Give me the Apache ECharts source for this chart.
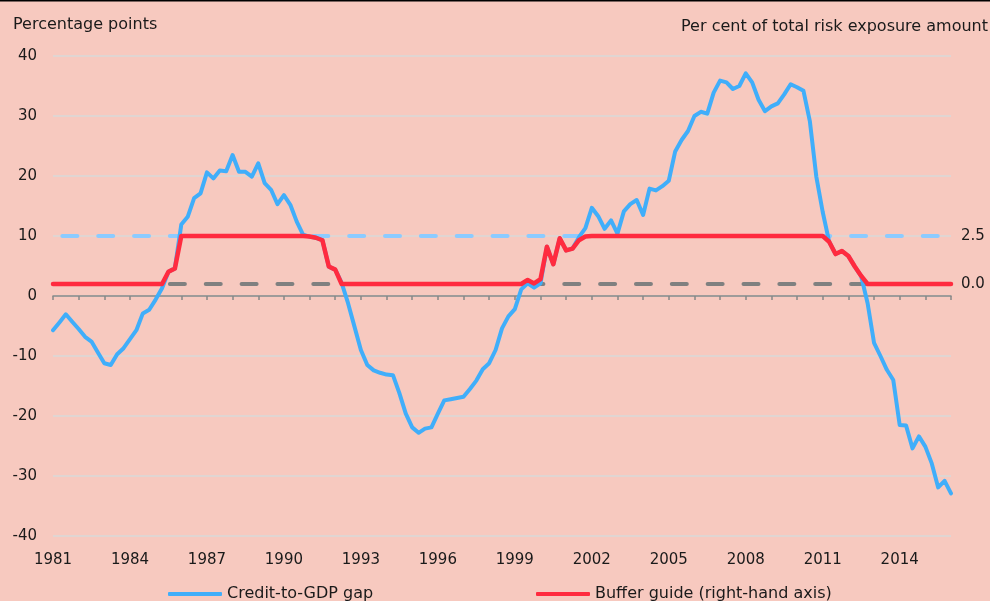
<!DOCTYPE html>
<html>
<head>
<meta charset="utf-8">
<script src="https://cdn.jsdelivr.net/npm/echarts@6/dist/echarts.min.js"></script>
<style>
html,body{margin:0;padding:0;background:#F7C9BF;}
#c{width:990px;height:601px;}
</style>
</head>
<body>
<div id="c"></div>
<script>
// Quarterly data, first quarter 1981 -> last point 2016
const startYear = 1981;
const pointsPerYear = 4;
// Credit-to-GDP gap (percentage points, left axis)
const creditGap = [
  -5.7, -4.4, -3.05, -4.3, -5.5, -6.8, -7.6, -9.4, -11.2, -11.5,
  -9.7, -8.7, -7.2, -5.7, -2.9, -2.3, -0.6, 1.3, 4.05, 4.6,
  11.9, 13.2, 16.3, 17.1, 20.6, 19.6, 20.9, 20.8, 23.5, 20.7,
  20.7, 19.9, 22.1, 18.8, 17.7, 15.3, 16.8, 15.2, 12.4, 10.2,
  9.9, 9.7, 9.3, 4.9, 4.4, 2.2, -1.2, -5.1, -9.0, -11.5,
  -12.4, -12.8, -13.1, -13.2, -16.2, -19.6, -21.9, -22.8, -22.1, -21.9,
  -19.6, -17.4, -17.2, -17.0, -16.8, -15.5, -14.1, -12.2, -11.2, -9.0,
  -5.4, -3.4, -2.2, 1.1, 2.1, 1.4, 2.1, 8.2, 5.3, 9.6,
  7.6, 7.9, 9.8, 11.3, 14.7, 13.3, 11.2, 12.6, 10.4, 14.1,
  15.3, 16.0, 13.5, 17.9, 17.6, 18.3, 19.2, 24.1, 26.0, 27.5,
  30.0, 30.7, 30.4, 33.9, 35.9, 35.6, 34.5, 35.0, 37.1, 35.6,
  32.7, 30.8, 31.6, 32.1, 33.6, 35.3, 34.8, 34.2, 29.1, 19.9,
  14.0, 9.05, 7.0, 7.5, 6.67, 4.9, 3.3, -1.2, -7.8, -10.0,
  -12.3, -14.0, -21.5, -21.6, -25.4, -23.4, -25.1, -27.9, -31.9, -30.8,
  -32.9
];
// Buffer guide (per cent of total risk exposure amount, right axis)
const bufferGuide = [
  0, 0, 0, 0, 0, 0, 0, 0, 0, 0,
  0, 0, 0, 0, 0, 0, 0, 0, 0.64, 0.81,
  2.5, 2.5, 2.5, 2.5, 2.5, 2.5, 2.5, 2.5, 2.5, 2.5,
  2.5, 2.5, 2.5, 2.5, 2.5, 2.5, 2.5, 2.5, 2.5, 2.5,
  2.47, 2.41, 2.28, 0.91, 0.75, 0, 0, 0, 0, 0,
  0, 0, 0, 0, 0, 0, 0, 0, 0, 0,
  0, 0, 0, 0, 0, 0, 0, 0, 0, 0,
  0, 0, 0, 0, 0.21, 0.03, 0.25, 1.94, 1.03, 2.38,
  1.75, 1.84, 2.28, 2.47, 2.5, 2.5, 2.5, 2.5, 2.5, 2.5,
  2.5, 2.5, 2.5, 2.5, 2.5, 2.5, 2.5, 2.5, 2.5, 2.5,
  2.5, 2.5, 2.5, 2.5, 2.5, 2.5, 2.5, 2.5, 2.5, 2.5,
  2.5, 2.5, 2.5, 2.5, 2.5, 2.5, 2.5, 2.5, 2.5, 2.5,
  2.5, 2.20, 1.56, 1.72, 1.46, 0.91, 0.42, 0, 0, 0,
  0, 0, 0, 0, 0, 0, 0, 0, 0, 0,
  0
];
// Threshold lines on the gap (left axis)
const upperThreshold = 10;
const lowerThreshold = 2;
const xMin = 1981, xMax = 2016;
const yLeftMin = -40, yLeftMax = 40, yLeftStep = 10;
const yRightMin = -13.125, yRightMax = 11.875;
const rightTickLabels = [0, 2.5];
const seriesNames = ['Credit-to-GDP gap', 'Buffer guide (right-hand axis)'];
const titleLeft = 'Percentage points';
const titleRight = 'Per cent of total risk exposure amount';

const toPairs = arr => arr.map((v, i) => [startYear + i / pointsPerYear, v]);
const FONT = 'DejaVu Sans';
const TXT = '#1a1a1a';

const chart = echarts.init(document.getElementById('c'), null, {renderer: 'canvas'});
chart.setOption({
  backgroundColor: '#F7C9BF',
  animation: false,
  textStyle: {fontFamily: FONT},
  grid: {left: 53, right: 39, top: 56, bottom: 65, containLabel: false},
  graphic: [
    {type: 'rect', left: 0, top: 0, shape: {width: 990, height: 1.5}, style: {fill: '#000'}},
    {type: 'text', left: 13, top: 17, style: {text: titleLeft, font: '16px "DejaVu Sans"', fill: TXT}},
    {type: 'text', right: 2, top: 19, style: {text: titleRight, font: '16px "DejaVu Sans"', fill: TXT}}
  ],
  legend: [
    {data: [seriesNames[0]], left: 168, top: 586, padding: 0, itemWidth: 54, itemHeight: 4, icon: 'roundRect',
     textStyle: {fontSize: 16, color: TXT, fontFamily: FONT}},
    {data: [seriesNames[1]], left: 536, top: 586, padding: 0, itemWidth: 54, itemHeight: 4, icon: 'roundRect',
     textStyle: {fontSize: 16, color: TXT, fontFamily: FONT}}
  ],
  xAxis: {
    type: 'value', min: xMin, max: xMax, interval: 1,
    axisLine: {lineStyle: {color: '#888', width: 1.5}},
    axisTick: {show: true, length: 4, lineStyle: {color: '#888', width: 1.5}},
    splitLine: {show: false},
    axisLabel: {
      fontSize: 15, color: TXT, margin: 17, fontFamily: FONT,
      formatter: v => ((v - xMin) % 3 === 0 ? String(v) : '')
    }
  },
  yAxis: [
    {
      type: 'value', min: yLeftMin, max: yLeftMax, interval: yLeftStep,
      axisLine: {show: false}, axisTick: {show: false},
      splitLine: {lineStyle: {color: '#D9D9D9', width: 1.5}},
      axisLabel: {fontSize: 15, color: TXT, margin: 16, fontFamily: FONT}
    },
    {
      type: 'value', min: yRightMin, max: yRightMax, position: 'right',
      axisLine: {show: false}, axisTick: {show: false}, splitLine: {show: false},
      axisLabel: {fontSize: 15, color: TXT, margin: 10, fontFamily: FONT,
        customValues: rightTickLabels, formatter: v => Number(v).toFixed(1)}
    }
  ],
  series: [
    {
      name: 'upper', type: 'line', yAxisIndex: 0, silent: true, symbol: 'none', z: 1,
      data: [[xMin, upperThreshold], [xMax, upperThreshold]],
      lineStyle: {color: '#8CCBFF', width: 4, type: [15, 20.85], dashOffset: 26.5, cap: 'round'}
    },
    {
      name: 'lower', type: 'line', yAxisIndex: 0, silent: true, symbol: 'none', z: 1,
      data: [[xMin, lowerThreshold], [xMax, lowerThreshold]],
      lineStyle: {color: '#808080', width: 4, type: [15, 20.85], dashOffset: 26.5, cap: 'round'}
    },
    {
      name: seriesNames[0], type: 'line', yAxisIndex: 0, symbol: 'none', z: 3,
      data: toPairs(creditGap), color: '#40AEFA',
      lineStyle: {color: '#40AEFA', width: 4, join: 'round', cap: 'round'}
    },
    {
      name: seriesNames[1], type: 'line', yAxisIndex: 1, symbol: 'none', z: 4,
      data: toPairs(bufferGuide), color: '#FF2B3F',
      lineStyle: {color: '#FF2B3F', width: 4.5, join: 'round', cap: 'round'}
    }
  ]
});
</script>
</body>
</html>
